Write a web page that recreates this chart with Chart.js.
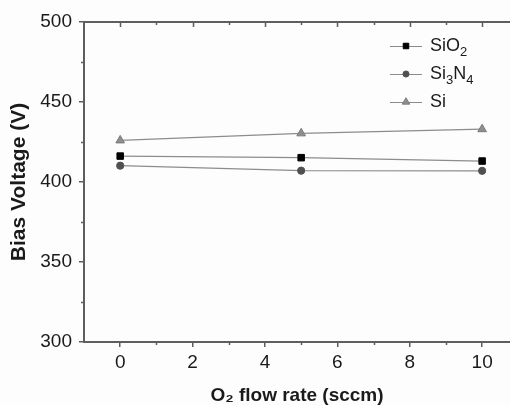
<!DOCTYPE html>
<html>
<head>
<meta charset="utf-8">
<script src="https://cdn.jsdelivr.net/npm/chart.js@4.4.1/dist/chart.umd.min.js"></script>
<style>
  html, body { margin: 0; padding: 0; background: #fdfdfd; }
  #wrap { width: 510px; height: 405px; overflow: hidden; }
  canvas { display: block; }
</style>
</head>
<body>
<div id="wrap"><canvas id="c" width="510" height="405"></canvas></div>
<script>
// ---- data ----
const flowRates = [0, 5, 10];
const seriesLabels = ["SiO2", "Si3N4", "Si"];
const sio2 = [416.2, 415.2, 413.1];
const si3n4 = [410.2, 407.1, 407.0];
const si = [426.0, 430.4, 433.0];
const xTicks = [0, 2, 4, 6, 8, 10];
const xMinorTicks = [1, 3, 5, 7, 9];
const yTicks = [300, 350, 400, 450, 500];
const yMinorTicks = [325, 375, 425, 475];
const xTitle = "O\u2082 flow rate (sccm)";
const yTitle = "Bias Voltage (V)";

const FONT = "'Liberation Sans', Arial, Helvetica, sans-serif";
const AXIS = '#5e5e5e';
const LINE = '#8c8c8c';

function pts(vals) { return flowRates.map((x, i) => ({ x: x, y: vals[i] })); }

const framePlugin = {
  id: 'frame',
  afterDraw(chart) {
    const ctx = chart.ctx, a = chart.chartArea;
    const xs = chart.scales.x, ys = chart.scales.y;
    ctx.save();
    ctx.strokeStyle = AXIS;
    ctx.lineWidth = 2;
    ctx.beginPath();
    ctx.moveTo(a.left - 1, a.top);
    ctx.lineTo(a.right, a.top);
    ctx.stroke();
    ctx.lineWidth = 1.5;
    ctx.beginPath();
    xTicks.forEach(v => {
      const px = Math.round(xs.getPixelForValue(v)) + 0.5;
      ctx.moveTo(px, a.top); ctx.lineTo(px, a.top + 5);
    });
    xMinorTicks.forEach(v => {
      const px = Math.round(xs.getPixelForValue(v)) + 0.5;
      ctx.moveTo(px, a.top); ctx.lineTo(px, a.top + 3);
      ctx.moveTo(px, a.bottom); ctx.lineTo(px, a.bottom + 3);
    });
    yMinorTicks.forEach(v => {
      const py = Math.round(ys.getPixelForValue(v)) + 0.5;
      ctx.moveTo(a.left, py); ctx.lineTo(a.left - 3, py);
    });
    ctx.stroke();

    // legend
    const lg = { x0: 390, x1: 422, tx: 430, rows: [46, 74, 102] };
    chart.data.datasets.forEach((ds, i) => {
      const cy = lg.rows[i];
      ctx.strokeStyle = ds.borderColor;
      ctx.lineWidth = 1;
      ctx.beginPath();
      ctx.moveTo(lg.x0, cy + 0.5); ctx.lineTo(lg.x1, cy + 0.5);
      ctx.stroke();
      ctx.fillStyle = ds.pointBackgroundColor;
      ctx.strokeStyle = ds.pointBorderColor;
      ctx.lineWidth = 1;
      Chart.helpers.drawPoint(ctx, { pointStyle: ds.pointStyle, radius: ds.pointRadius * 0.85, rotation: 0, borderWidth: 1 }, (lg.x0 + lg.x1) / 2, cy);
      // label with subscripts for digits
      let tx = lg.tx;
      ctx.fillStyle = '#1a1a1a';
      ctx.textBaseline = 'middle';
      ctx.textAlign = 'left';
      ds.label.split(/(\d+)/).forEach(seg => {
        if (!seg) return;
        const sub = /^\d+$/.test(seg);
        ctx.font = (sub ? 13 : 18) + 'px ' + FONT;
        ctx.fillText(seg, tx, sub ? cy + 6 : cy);
        tx += ctx.measureText(seg).width;
      });
    });
    ctx.restore();
  }
};

const bg = {
  id: 'bg',
  beforeDraw(chart) {
    const ctx = chart.ctx;
    ctx.save();
    ctx.fillStyle = '#fdfdfd';
    ctx.fillRect(0, 0, chart.width, chart.height);
    ctx.restore();
  }
};

new Chart(document.getElementById('c'), {
  type: 'line',
  data: {
    datasets: [
      { label: seriesLabels[0], data: pts(sio2), borderColor: LINE, borderWidth: 1.2,
        pointStyle: 'rect', pointRadius: 4.6, pointBackgroundColor: '#000', pointBorderColor: '#000', pointBorderWidth: 1 },
      { label: seriesLabels[1], data: pts(si3n4), borderColor: LINE, borderWidth: 1.2,
        pointStyle: 'circle', pointRadius: 3.6, pointBackgroundColor: '#505050', pointBorderColor: '#505050', pointBorderWidth: 1 },
      { label: seriesLabels[2], data: pts(si), borderColor: LINE, borderWidth: 1.2,
        pointStyle: 'triangle', pointRadius: 5, pointBackgroundColor: '#8e8e8e', pointBorderColor: '#7a7a7a', pointBorderWidth: 1 }
    ]
  },
  options: {
    responsive: false,
    devicePixelRatio: 1,
    animation: false,
    events: [],
    layout: { autoPadding: false, padding: { top: 22, right: 0, left: 0, bottom: 0 } },
    plugins: { legend: { display: false }, tooltip: { enabled: false } },
    scales: {
      x: {
        type: 'linear', min: -1, max: 10.77,
        afterBuildTicks: s => { s.ticks = xTicks.map(v => ({ value: v })); },
        afterFit: s => { s.height = 63; },
        grid: { drawOnChartArea: false, drawTicks: true, tickLength: 5, color: AXIS, lineWidth: 1.5 },
        border: { color: AXIS, width: 2 },
        ticks: { font: { family: FONT, size: 19 }, color: '#1a1a1a', padding: 4, maxRotation: 0, autoSkip: false },
        title: { display: true, text: xTitle, font: { family: FONT, size: 19, weight: 'bold', lineHeight: 1 }, color: '#1a1a1a', padding: 0 }
      },
      y: {
        type: 'linear', min: 300, max: 500,
        afterBuildTicks: s => { s.ticks = yTicks.map(v => ({ value: v })); },
        afterFit: s => { s.width = 84; },
        grid: { drawOnChartArea: false, drawTicks: true, tickLength: 5, color: AXIS, lineWidth: 1.5 },
        border: { color: AXIS, width: 2 },
        ticks: { font: { family: FONT, size: 19 }, color: '#1a1a1a', padding: 7, autoSkip: false },
        title: { display: true, text: yTitle, font: { family: FONT, size: 21, weight: 'bold', lineHeight: 1.2 }, color: '#1a1a1a', padding: { top: 7, bottom: 0 } }
      }
    }
  },
  plugins: [bg, framePlugin]
});
</script>
</body>
</html>
